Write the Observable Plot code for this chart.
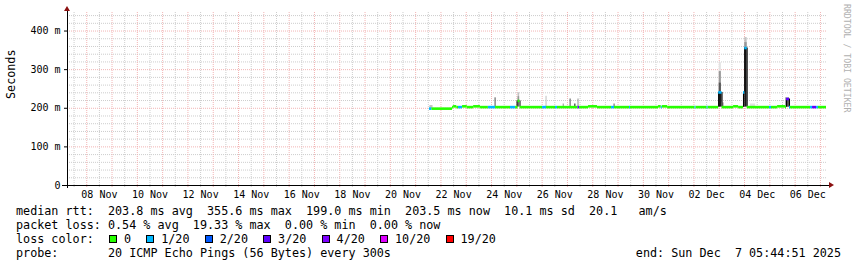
<!DOCTYPE html>
<html><head><meta charset="utf-8">
<script src="https://cdn.jsdelivr.net/npm/d3@7"></script>
<script src="https://cdn.jsdelivr.net/npm/@observablehq/plot@0.6"></script>
<style>
body{margin:0;background:#fff;width:857px;height:267px;overflow:hidden;font-family:"DejaVu Sans Mono",monospace;}
#chart svg{display:block}
#legend{font-size:11.75px;line-height:14px;white-space:pre;color:#000;margin:4px 0 0 16px}
.row{display:flex;justify-content:space-between;padding-right:16px}
.box{display:inline-block;width:6px;height:6px;border:1px solid #000;margin-left:1px;margin-right:7px;vertical-align:baseline}
</style>
</head><body>
<div id="chart"></div>
<div id="legend"></div>
<script>
// ---- data ----
const startTime = "2025-11-07T05:44:51Z";
const endTime = "2025-12-07T05:44:51Z";

const lossLabels = ["0", "1/20", "2/20", "3/20", "4/20", "10/20", "19/20"];
const lossColors = ["#26ff00", "#00b8ff", "#0059ff", "#5e00ff", "#7e00ff", "#dd00ff", "#ff0000"];

// median rtt (ms), step segments starting at medianTime[i]
const medianTime = [
  "2025-11-21T13:10Z","2025-11-21T15:30Z","2025-11-22T11:00Z","2025-11-22T12:00Z","2025-11-22T15:00Z",
  "2025-11-22T16:40Z","2025-11-22T20:30Z","2025-11-23T01:00Z","2025-11-23T07:00Z","2025-11-23T13:30Z",
  "2025-11-23T21:00Z","2025-11-24T03:50Z","2025-11-24T18:00Z","2025-11-24T22:50Z","2025-11-25T01:10Z",
  "2025-11-25T03:00Z","2025-11-26T00:25Z","2025-11-26T04:10Z","2025-11-26T12:40Z","2025-11-26T14:35Z",
  "2025-11-27T10:00Z","2025-11-27T11:30Z","2025-11-27T20:00Z","2025-11-28T04:30Z","2025-11-28T17:50Z",
  "2025-11-28T20:40Z","2025-11-29T10:55Z","2025-11-29T11:50Z","2025-11-30T14:25Z","2025-11-30T17:00Z",
  "2025-11-30T18:00Z","2025-11-30T23:00Z","2025-12-02T01:00Z","2025-12-02T02:00Z","2025-12-02T12:30Z",
  "2025-12-02T13:30Z","2025-12-02T23:30Z","2025-12-03T02:40Z","2025-12-03T13:35Z","2025-12-03T18:20Z",
  "2025-12-03T23:00Z","2025-12-04T00:15Z","2025-12-04T02:30Z","2025-12-04T23:40Z","2025-12-05T01:35Z",
  "2025-12-05T07:20Z","2025-12-05T14:55Z","2025-12-05T15:50Z","2025-12-05T18:40Z","2025-12-05T19:35Z",
  "2025-12-06T14:35Z","2025-12-06T16:30Z","2025-12-06T20:20Z","2025-12-06T22:10Z"
];
const medianMs = [
  199,199,203,205,203,
  203,205,203,205,203,
  203,203,203,203,219,
  203,203,203,203,203,
  203,203,205,203,203,
  203,203,203,205,203,
  205,203,203,203,203,
  203,241,203,205,203,
  241,356,203,203,203,
  205,203,224,203,203,
  203,203,203,203
];
const medianLoss = [
  1,0,0,0,0,
  1,0,0,0,0,
  1,0,1,0,0,
  0,1,0,1,0,
  3,0,0,0,1,
  0,1,0,0,1,
  0,0,1,0,1,
  0,1,0,0,0,
  1,1,0,1,0,
  0,0,3,1,0,
  1,3,1,0
];

// smoke (ping spread) bands
const smokeStart = [
  "2025-11-21T13:30Z","2025-11-24T03:20Z","2025-11-25T01:10Z","2025-11-25T01:10Z","2025-11-25T00:10Z",
  "2025-11-26T03:40Z","2025-11-26T20:00Z","2025-11-27T02:30Z","2025-11-27T07:00Z","2025-11-27T10:00Z",
  "2025-11-28T20:00Z","2025-12-03T00:00Z","2025-12-03T00:00Z","2025-12-03T00:00Z","2025-12-02T23:30Z",
  "2025-12-03T02:40Z","2025-12-04T00:15Z","2025-12-04T00:15Z","2025-12-03T23:00Z","2025-12-04T00:15Z",
  "2025-12-04T05:30Z","2025-12-05T15:00Z","2025-12-05T15:50Z"
];
const smokeEnd = [
  "2025-11-21T16:30Z","2025-11-24T04:20Z","2025-11-25T02:40Z","2025-11-25T02:40Z","2025-11-25T01:10Z",
  "2025-11-26T04:40Z","2025-11-26T21:00Z","2025-11-27T03:30Z","2025-11-27T08:00Z","2025-11-27T11:00Z",
  "2025-11-28T21:30Z","2025-12-03T02:00Z","2025-12-03T02:00Z","2025-12-03T02:00Z","2025-12-03T02:40Z",
  "2025-12-03T05:00Z","2025-12-04T02:30Z","2025-12-04T02:30Z","2025-12-04T00:15Z","2025-12-04T02:30Z",
  "2025-12-04T10:30Z","2025-12-05T18:40Z","2025-12-05T18:40Z"
];
const smokeLow  = [199,203,219,219,203, 203,203,203,203,203, 203,241,241,241,203, 203,356,356,203,203, 203,203,203];
const smokeHigh = [207,227,240,230,219, 231,211,224,211,224, 211,318,295,265,241, 214,383,370,241,356, 211,227,224];
const smokeLayer = [1,3,1,2,4, 1,2,3,4,2, 2,0,2,3,4, 1,1,2,4,4, 0,2,3];

// axis ticks
const xTickDates = ["2025-11-08T12:00Z","2025-11-10T12:00Z","2025-11-12T12:00Z","2025-11-14T12:00Z","2025-11-16T12:00Z",
  "2025-11-18T12:00Z","2025-11-20T12:00Z","2025-11-22T12:00Z","2025-11-24T12:00Z","2025-11-26T12:00Z",
  "2025-11-28T12:00Z","2025-11-30T12:00Z","2025-12-02T12:00Z","2025-12-04T12:00Z","2025-12-06T12:00Z"];
const xTickLabels = ["08 Nov","10 Nov","12 Nov","14 Nov","16 Nov","18 Nov","20 Nov","22 Nov","24 Nov","26 Nov",
  "28 Nov","30 Nov","02 Dec","04 Dec","06 Dec"];
const yTickValues = [0, 100, 200, 300, 400];
const yTickLabels = ["0", "100 m", "200 m", "300 m", "400 m"];

// legend text
const rttLine = "median rtt:  203.8 ms avg  355.6 ms max  199.0 ms min  203.5 ms now  10.1 ms sd  20.1   am/s";
const lossLine = "packet loss: 0.54 % avg  19.33 % max  0.00 % min  0.00 % now";
const probeLine = "probe:       20 ICMP Echo Pings (56 Bytes) every 300s";
const endLine = "end: Sun Dec  7 05:44:51 2025";
const yLabel = "Seconds";
const watermark = "RRDTOOL / TOBI OETIKER";

// ---- build ----
const t0 = new Date(startTime), t1 = new Date(endTime);
const segs = medianTime.map((t, i) => ({
  x1: new Date(t), x2: new Date(medianTime[i + 1] ?? endTime), y: medianMs[i], loss: medianLoss[i]
}));
const connectors = [];
for (let i = 1; i < segs.length; i++) {
  if (Math.abs(segs[i].y - segs[i - 1].y) > 4) connectors.push({x: segs[i].x1, y1: segs[i - 1].y, y2: segs[i].y});
}
const smoke = smokeStart.map((s, i) => ({x1: new Date(s), x2: new Date(smokeEnd[i]), y1: smokeLow[i], y2: smokeHigh[i], layer: smokeLayer[i]}));
const shades = ["#e2e2e2", "#c2c2c2", "#989898", "#585858", "#1a1a1a"];

const majorX = d3.utcDay.range(d3.utcDay.ceil(t0), t1);
const minorX = d3.utcHour.every(12).range(t0, t1).filter(d => d.getUTCHours() === 12);
const minorY = d3.range(20, 448, 20).filter(v => v % 100 !== 0);
const majorY = [100, 200, 300, 400];

const chart = Plot.plot({
  width: 857, height: 200,
  marginLeft: 67, marginRight: 31, marginTop: 12, marginBottom: 15,
  style: {fontFamily: "'DejaVu Sans Mono', monospace", fontSize: "10px", background: "#fff", color: "#000", overflow: "visible"},
  x: {type: "utc", domain: [t0, t1]},
  y: {domain: [0, 448]},
  marks: [
    Plot.ruleY(minorY, {stroke: "#cdcdcd", strokeDasharray: "1,1", strokeWidth: 1}),
    Plot.ruleX(minorX, {stroke: "#cdcdcd", strokeDasharray: "1,1", strokeWidth: 1, insetBottom: -2}),
    Plot.ruleY(majorY, {stroke: "#f2b4b4", strokeDasharray: "1,1", strokeWidth: 1}),
    Plot.ruleX(majorX, {stroke: "#f2b4b4", strokeDasharray: "1,1", strokeWidth: 1, insetBottom: -3}),
    Plot.rect(smoke, {x1: "x1", x2: "x2", y1: "y1", y2: "y2", fill: d => shades[d.layer]}),
    Plot.ruleX(connectors, {x: "x", y1: "y1", y2: "y2", stroke: "#000", strokeWidth: 1}),
    Plot.ruleY(segs, {x1: "x1", x2: "x2", y: "y", stroke: d => lossColors[d.loss], strokeWidth: 2.6}),
    Plot.ruleY([0], {stroke: "#000", insetLeft: -5, insetRight: -3}),
    Plot.ruleX([t0], {stroke: "#000", insetTop: -2, insetBottom: -3}),
    Plot.axisX(xTickDates.map(d => new Date(d)), {
      tickSize: 0, tickPadding: 5, fontSize: 10,
      tickFormat: d => xTickLabels[xTickDates.findIndex(s => +new Date(s) === +d)]
    }),
    Plot.axisY(yTickValues, {
      tickSize: 3, tickPadding: 4, fontSize: 10, label: null,
      tickFormat: d => yTickLabels[yTickValues.indexOf(d)]
    }),
    Plot.text([yLabel], {frameAnchor: "left", dx: -56, rotate: -90, fontSize: 11.75})
  ]
});
document.getElementById("chart").appendChild(chart);

// axis arrows and watermark
const svg = d3.select(chart);
const [xa, xb] = chart.scale("x").range;
const [yb, ya] = chart.scale("y").range;
svg.append("path").attr("d", `M${xb + 3},${yb - 3}L${xb + 8},${yb}L${xb + 3},${yb + 3}Z`).attr("fill", "#8b1010");
svg.append("path").attr("d", `M${xa - 3},${ya - 1}L${xa},${ya - 6}L${xa + 3},${ya - 1}Z`).attr("fill", "#8b1010");
svg.append("text").attr("transform", `translate(${844},4) rotate(90)`)
  .attr("text-anchor", "start")
  .attr("font-size", 8.2).attr("fill", "#b0b0b0").attr("font-family", "'DejaVu Sans Mono', monospace")
  .text(watermark);

// legend
const legend = document.getElementById("legend");
const items = lossLabels.map((l, i) => `<span class="box" style="background:${lossColors[i]}"></span>${l}`).join("  ");
legend.innerHTML =
  `<div>${rttLine}</div>` +
  `<div>${lossLine}</div>` +
  `<div>loss color:  ${items}</div>` +
  `<div class="row"><span>${probeLine}</span><span>${endLine}</span></div>`;
</script>
</body></html>
